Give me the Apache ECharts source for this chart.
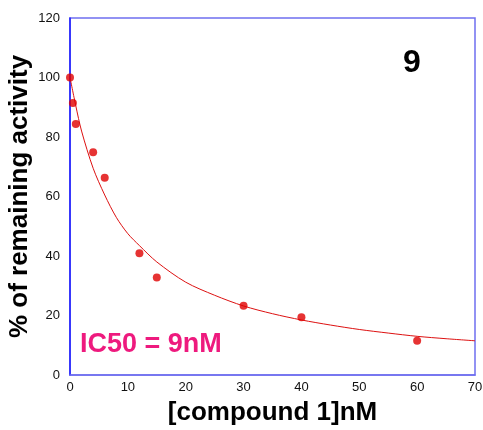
<!DOCTYPE html>
<html>
<head>
<meta charset="utf-8">
<script src="https://cdn.jsdelivr.net/npm/echarts@6/dist/echarts.min.js"></script>
<style>html,body{margin:0;padding:0;background:#fff}#c{width:483px;height:430px}</style>
</head>
<body>
<div id="c"></div>
<script>
// Measured points: [compound 1] (nM), % remaining activity
var concX = [0, 0.5, 1, 4, 6, 12, 15, 30, 40, 60];
var activityY = [100, 91.4, 84.4, 74.9, 66.3, 40.9, 32.8, 23.3, 19.4, 11.5];
// Fit curve
var curveX = [0, 1, 2, 4, 6, 8, 10, 12, 15, 20, 25, 30, 35, 40, 45, 50, 55, 60, 65, 70];
var curveY = [100, 90.5, 82, 69.5, 60.5, 53, 47.5, 43.5, 38, 31.2, 26.8, 23.2, 20.6, 18.5, 16.8, 15.3, 14.1, 13, 12.2, 11.5];
var xTicks = [0, 10, 20, 30, 40, 50, 60, 70];
var yTicks = [0, 20, 40, 60, 80, 100, 120];

var chart = echarts.init(document.getElementById('c'));
var font = '"Liberation Sans", Arial, sans-serif';
chart.setOption({
  animation: false,
  backgroundColor: '#ffffff',
  grid: {left: 70, top: 18, width: 405, height: 357, containLabel: false, outerBoundsMode: 'none',
         show: true, borderColor: '#6f6ff0', borderWidth: 1.5},
  xAxis: {
    type: 'value', min: xTicks[0], max: xTicks[xTicks.length - 1], interval: 10,
    name: '[compound 1]nM', nameLocation: 'middle', nameGap: 25, nameMoveOverlap: false,
    nameTextStyle: {fontFamily: font, fontSize: 26, fontWeight: 'bold', color: '#000'},
    axisLine: {show: true, lineStyle: {color: '#6f6ff0', width: 1.5}},
    axisTick: {show: false},
    splitLine: {show: false},
    axisLabel: {fontFamily: font, fontSize: 13, color: '#111', margin: 6}
  },
  yAxis: {
    type: 'value', min: yTicks[0], max: yTicks[yTicks.length - 1], interval: 20,
    name: '% of remaining activity', nameLocation: 'middle', nameGap: 37, nameMoveOverlap: false,
    nameTextStyle: {fontFamily: font, fontSize: 26, fontWeight: 'bold', color: '#000'},
    axisLine: {show: true, lineStyle: {color: '#1a1aff', width: 1.5}},
    axisTick: {show: false},
    splitLine: {show: false},
    axisLabel: {fontFamily: font, fontSize: 13, color: '#111', margin: 10}
  },
  series: [
    {
      type: 'line', data: curveX.map(function (x, i) { return [x, curveY[i]]; }),
      showSymbol: false, smooth: 0.3,
      lineStyle: {color: '#dd1111', width: 1}, z: 2
    },
    {
      type: 'scatter', data: concX.map(function (x, i) { return [x, activityY[i]]; }),
      symbolSize: 8, itemStyle: {color: '#e00000'}, z: 3
    }
  ],
  graphic: [
    {type: 'text', left: 403, top: 47, style: {text: '9', font: 'bold 32px ' + font, fill: '#000'}},
    {type: 'text', left: 80, top: 331, style: {text: 'IC50 = 9nM', font: 'bold 27px ' + font, fill: '#ee1a7e'}}
  ]
});
</script>
</body>
</html>
